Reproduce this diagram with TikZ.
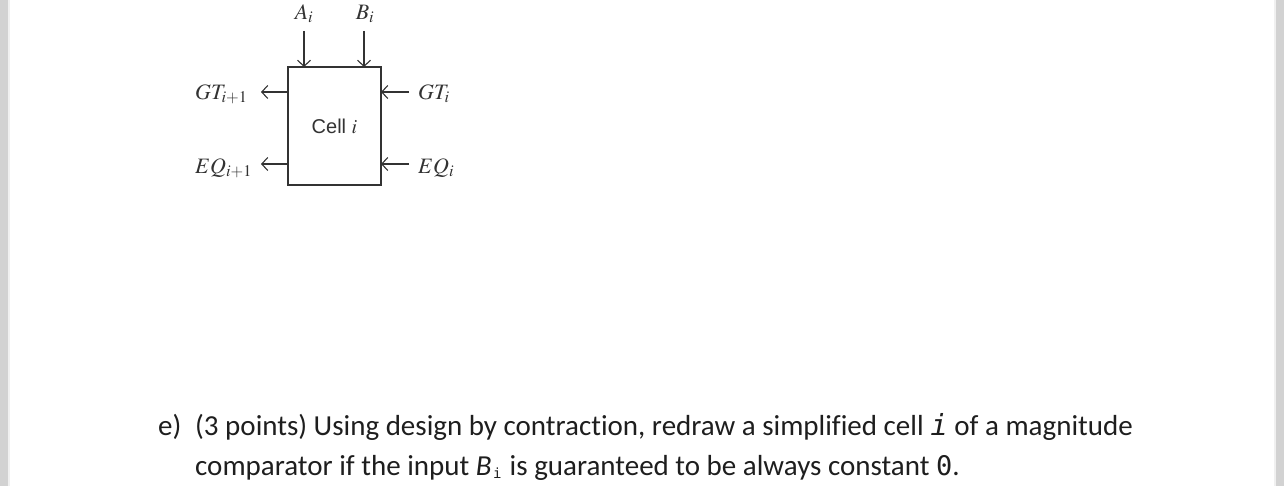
\documentclass[tikz,border=0pt]{standalone}
\usepackage{amsmath}
\usepackage{mathptmx}
\usepackage[no-math]{fontspec}
\setmainfont{Carlito}[Ligatures=NoCommon]
\setsansfont{Liberation Sans}
\setmonofont{DejaVu Sans Mono}
\usetikzlibrary{positioning, arrows.meta}
\definecolor{inkgrey}{HTML}{333333}
\definecolor{textgrey}{HTML}{1E1E1E}
\definecolor{stripgrey}{HTML}{D2D2D2}
\definecolor{stripedge}{HTML}{F0F0F0}
\tikzset{
    cell/.style={draw=inkgrey, line width=1.8pt, fill=white, inner sep=0pt, minimum width=93pt, minimum height=118pt},
    pin/.style={inner sep=0pt, text=inkgrey, font=\fontsize{22}{22}\selectfont},
    wire/.style={-{Straight Barb[length=6pt, width=13pt]}, draw=inkgrey, line width=1.1pt},
    para/.style={inner sep=0pt, anchor=base west, text=textgrey, font=\fontsize{29}{29}\selectfont}
}

\begin{document}
\begin{tikzpicture}[x=1pt, y=-1pt, node distance=30pt, on grid]
    \useasboundingbox (0,0) rectangle (1284,486);
    \fill[stripgrey] (0,0) rectangle (8,486);
    \fill[stripedge] (8,0) rectangle (10,486);
    \fill[stripgrey] (1276,0) rectangle (1284,486);
    \fill[stripedge] (1274,0) rectangle (1276,486);

    \node[cell] (cell) at (334.5,126) {\fontsize{20}{20}\sffamily\selectfont\color{inkgrey}Cell $i$};

    % pins on the top side
    \coordinate (topA) at (304,67);
    \coordinate (topB) at (364,67);
    \node[pin] (Ai) at (304,14) {$A_i$};
    \node[pin] (Bi) at (365,14) {$B_i$};
    \coordinate (Astart) at (304,31);
    \coordinate (Bstart) at (364,31);

    % pins on the sides
    \coordinate (gtL) at (288,92);
    \coordinate (eqL) at (288,164);
    \coordinate (gtR) at (381,92);
    \coordinate (eqR) at (381,164);
    \coordinate (gtOut) at (261,92);
    \coordinate (eqOut) at (261,164);
    \coordinate (gtIn) at (409,92);
    \coordinate (eqIn) at (409,164);

    \node[pin, anchor=west] (GTnext) at (195,94) {$GT_{i+1}$};
    \node[pin, anchor=west] (EQnext) at (195,168) {$EQ_{i+1}$};
    \node[pin, anchor=west] (GTi) at (418,94) {$GT_i$};
    \node[pin, anchor=west] (EQi) at (418,168) {$EQ_i$};

    \draw[wire] (Astart) -- (topA);
    \draw[wire] (Bstart) -- (topB);
    \draw[wire] (gtL) -- (gtOut);
    \draw[wire] (eqL) -- (eqOut);
    \draw[wire] (gtIn) -- (gtR);
    \draw[wire] (eqIn) -- (eqR);

    \node[para] (mark) at (158,435) {e)};
    \node[para] (lineA) at (195,435) {(3 points) Using design by contraction, redraw a simplified cell {\ttfamily\itshape i} of a magnitude};
    \node[para] (lineB) at (195,475) {comparator if the input \textit{B}\hspace{1.5pt}\raisebox{-3pt}{\fontsize{14}{14}\ttfamily\selectfont i}\hspace{1.5pt} is guaranteed to be always constant {\fontsize{27}{27}\ttfamily\selectfont 0}.};
\end{tikzpicture}
\end{document}
